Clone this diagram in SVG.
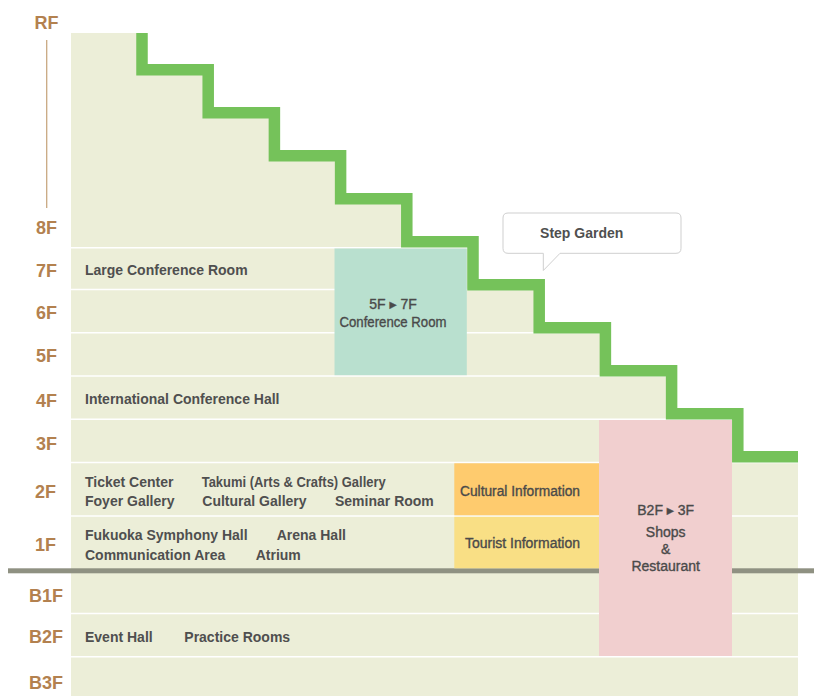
<svg xmlns="http://www.w3.org/2000/svg" width="814" height="696" viewBox="0 0 814 696">
<style>
.fl{font-family:"Liberation Sans","DejaVu Sans",sans-serif;font-weight:bold;font-size:18px;fill:#b3814f;text-anchor:middle}
.rm{font-family:"Liberation Sans","DejaVu Sans",sans-serif;font-weight:bold;font-size:14px;fill:#4f4f4f}
.bx{font-family:"Liberation Sans","DejaVu Sans",sans-serif;font-size:14px;fill:#4a4a4a;stroke:#4a4a4a;stroke-width:0.35;text-anchor:middle}
.sep{stroke:#ffffff;stroke-width:1.6;fill:none}
</style>
<rect width="814" height="696" fill="#ffffff"/>
<g id="building">
<path d="M71,33 L142,33 L142,69.7 L208.2,69.7 L208.2,112.7 L274.4,112.7 L274.4,155.7 L340.6,155.7 L340.6,198.7 L406.8,198.7 L406.8,241.7 L473,241.7 L473,284.7 L539.2,284.7 L539.2,327.7 L605.4,327.7 L605.4,370.7 L671.6,370.7 L671.6,413.7 L737.8,413.7 L737.8,456.7 L798,456.7 L798,696 L71,696 Z" fill="#eceed8"/>
<g class="sep">
<line x1="71" y1="247.8" x2="798" y2="247.8"/>
<line x1="71" y1="289.5" x2="798" y2="289.5"/>
<line x1="71" y1="332.7" x2="798" y2="332.7"/>
<line x1="71" y1="376" x2="798" y2="376"/>
<line x1="71" y1="419.3" x2="798" y2="419.3"/>
<line x1="71" y1="462.5" x2="798" y2="462.5"/>
<line x1="71" y1="516" x2="798" y2="516"/>
<line x1="71" y1="613.5" x2="798" y2="613.5"/>
<line x1="71" y1="656.8" x2="798" y2="656.8"/>
</g>
</g>
<g id="step-garden-stairs">
<path d="M142,33 L142,69.7 L208.2,69.7 L208.2,112.7 L274.4,112.7 L274.4,155.7 L340.6,155.7 L340.6,198.7 L406.8,198.7 L406.8,241.7 L473,241.7 L473,284.7 L539.2,284.7 L539.2,327.7 L605.4,327.7 L605.4,370.7 L671.6,370.7 L671.6,413.7 L737.8,413.7 L737.8,456.7 L798,456.7" fill="none" stroke="#75c25a" stroke-width="11.5" stroke-linejoin="miter"/>
</g>
<g id="ground-line">
<rect x="8" y="568.3" width="806" height="5" fill="#8f9182"/>
</g>
<g id="floor-labels">
<text class="fl" x="46.5" y="29">RF</text>
<line x1="46.7" y1="40" x2="46.7" y2="208" stroke="#c9a882" stroke-width="1.3"/>
<text class="fl" x="46.5" y="234">8F</text>
<text class="fl" x="46.5" y="277">7F</text>
<text class="fl" x="46.5" y="319">6F</text>
<text class="fl" x="46.5" y="362">5F</text>
<text class="fl" x="46.5" y="407">4F</text>
<text class="fl" x="46.5" y="450">3F</text>
<text class="fl" x="45.5" y="498">2F</text>
<text class="fl" x="45.5" y="551">1F</text>
<text class="fl" x="46" y="602">B1F</text>
<text class="fl" x="46" y="643">B2F</text>
<text class="fl" x="46" y="689">B3F</text>
</g>
<g id="floor-7F">
<text class="rm" x="85" y="275">Large Conference Room</text>
</g>
<g id="floor-4F">
<text class="rm" x="85" y="404">International Conference Hall</text>
</g>
<g id="floor-2F">
<text class="rm" x="85" y="486.7">Ticket Center</text>
<text class="rm" x="201.7" y="486.7" textLength="184" lengthAdjust="spacingAndGlyphs">Takumi (Arts &amp; Crafts) Gallery</text>
<text class="rm" x="85" y="506">Foyer Gallery</text>
<text class="rm" x="202.3" y="506">Cultural Gallery</text>
<text class="rm" x="335" y="506">Seminar Room</text>
</g>
<g id="floor-1F">
<text class="rm" x="85" y="540">Fukuoka Symphony Hall</text>
<text class="rm" x="276.7" y="540">Arena Hall</text>
<text class="rm" x="85" y="560">Communication Area</text>
<text class="rm" x="255.7" y="560">Atrium</text>
</g>
<g id="floor-B2F">
<text class="rm" x="85" y="641.7">Event Hall</text>
<text class="rm" x="184.3" y="641.7">Practice Rooms</text>
</g>
<g id="conference-room">
<rect x="334.5" y="248.5" width="132.3" height="126.7" fill="#b9e0cf"/>
<text class="bx" x="393" y="309">5F ▸ 7F</text>
<text class="bx" x="393" y="327.3" textLength="107" lengthAdjust="spacingAndGlyphs">Conference Room</text>
</g>
<g id="cultural-information">
<rect x="454.3" y="463.3" width="144.7" height="52" fill="#fecb6e"/>
<text class="bx" x="520" y="496" textLength="120" lengthAdjust="spacingAndGlyphs">Cultural Information</text>
</g>
<g id="tourist-information">
<rect x="454.3" y="516.8" width="144.7" height="51.5" fill="#f9df85"/>
<text class="bx" x="522.5" y="547.7" textLength="115" lengthAdjust="spacingAndGlyphs">Tourist Information</text>
</g>
<g id="shops-restaurant">
<rect x="599" y="420" width="133" height="236" fill="#f1cfcf"/>
<text class="bx" x="665.7" y="515">B2F ▸ 3F</text>
<text class="bx" x="665.7" y="536.5">Shops</text>
<text class="bx" x="665.7" y="553.5">&amp;</text>
<text class="bx" x="665.7" y="571">Restaurant</text>
</g>
<g id="step-garden-callout">
<path d="M508,213 L676,213 Q681,213 681,218 L681,248.3 Q681,253.3 676,253.3 L560,253.3 L543.3,270.5 L543.3,253.3 L508,253.3 Q503,253.3 503,248.3 L503,218 Q503,213 508,213 Z" fill="#ffffff" stroke="#cfcfcf" stroke-width="1"/>
<text class="rm" x="581.7" y="238.3" text-anchor="middle">Step Garden</text>
</g>
</svg>
